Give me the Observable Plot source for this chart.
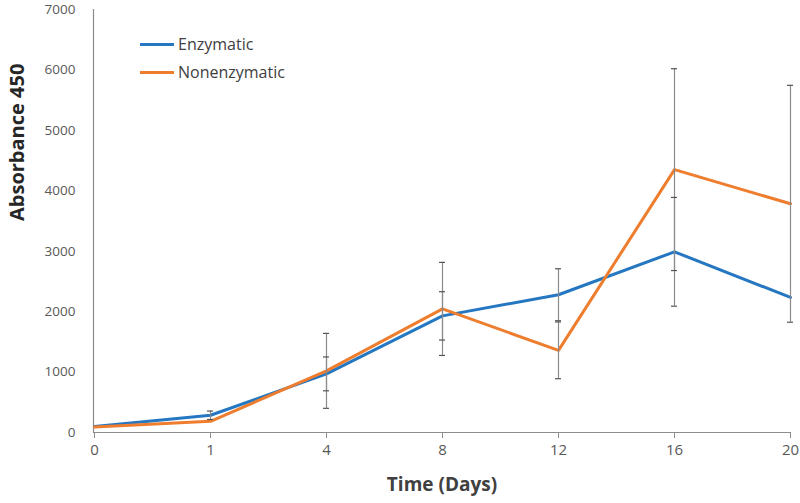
<!DOCTYPE html>
<html>
<head>
<meta charset="utf-8">
<script src="https://cdn.jsdelivr.net/npm/d3@7"></script>
<script src="https://cdn.jsdelivr.net/npm/@observablehq/plot@0.6"></script>
<style>
  html, body { margin: 0; padding: 0; background: #fff; }
  #wrap { position: relative; width: 800px; height: 503px; font-family: "Open Sans", sans-serif; }
  #legend { position: absolute; left: 140px; top: 30px; font-size: 16px; color: #404040; }
  .li { display: flex; align-items: center; height: 28px; }
  .sw { width: 34px; height: 3px; margin-right: 4px; }
</style>
</head>
<body>
<div id="wrap">
  <div id="chart"></div>
  <div id="legend"></div>
</div>
<script>
const days = ["0", "1", "4", "8", "12", "16", "20"];
const seriesNames = ["Enzymatic", "Nonenzymatic"];
const colors = ["#2477c0", "#ee7d2e"];
const enzymatic = [100, 285, 970, 1930, 2280, 2990, 2235];
const enzymaticErr = [0, 70, 280, 400, 430, 900, 0];
const nonenzymatic = [90, 185, 1020, 2045, 1360, 4350, 3785];
const nonenzymaticErr = [0, 0, 620, 770, 470, 1670, 1960];
const yTicks = [0, 1000, 2000, 3000, 4000, 5000, 6000, 7000];

const rows = [];
days.forEach((d, i) => {
  rows.push({day: d, series: seriesNames[0], value: enzymatic[i], err: enzymaticErr[i]});
  rows.push({day: d, series: seriesNames[1], value: nonenzymatic[i], err: nonenzymaticErr[i]});
});
const errRows = rows.filter(r => r.err > 0);

const plot = Plot.plot({
  width: 800,
  height: 503,
  marginLeft: 93,
  marginRight: 10,
  marginTop: 9,
  marginBottom: 71,
  style: {fontFamily: "Open Sans, sans-serif", background: "#fff", overflow: "visible"},
  x: {type: "point", domain: days, padding: 0},
  y: {domain: [0, 7000]},
  color: {domain: seriesNames, range: colors},
  marks: [
    Plot.ruleY([0], {stroke: "#8c8c8c", strokeWidth: 1.2}),
    Plot.frame({anchor: "left", stroke: "#8c8c8c", strokeWidth: 1.2}),
    Plot.axisX({tickSize: 6, tickPadding: 6, fontSize: 15, color: "#595959", stroke: "#8c8c8c", label: null}),
    Plot.axisY({ticks: yTicks, tickSize: 0, tickPadding: 18, fontSize: 13.5, color: "#595959", label: null, tickFormat: d3.format("d")}),
    Plot.line(rows, {x: "day", y: "value", z: "series", stroke: "series", strokeWidth: 3}),
    Plot.ruleX(errRows, {x: "day", y1: r => r.value - r.err, y2: r => r.value + r.err, stroke: "#8a8a8a", strokeWidth: 1.2}),
    Plot.ruleY(errRows, {x1: "day", x2: "day", y: r => r.value - r.err, stroke: "#555", strokeWidth: 1.2, insetLeft: -3, insetRight: -3}),
    Plot.ruleY(errRows, {x1: "day", x2: "day", y: r => r.value + r.err, stroke: "#555", strokeWidth: 1.2, insetLeft: -3, insetRight: -3}),
    Plot.text(["Time (Days)"], {frameAnchor: "bottom", dy: 58, fontWeight: "bold", fontSize: 19, fill: "#404040"}),
    Plot.text(["Absorbance 450"], {frameAnchor: "left", rotate: -90, dx: -76, fontWeight: "bold", fontSize: 20, fill: "#262626"})
  ]
});
document.getElementById("chart").appendChild(plot);

const legend = document.getElementById("legend");
seriesNames.forEach((name, i) => {
  const row = document.createElement("div");
  row.className = "li";
  const sw = document.createElement("div");
  sw.className = "sw";
  sw.style.background = colors[i];
  const t = document.createElement("span");
  t.textContent = name;
  row.appendChild(sw);
  row.appendChild(t);
  legend.appendChild(row);
});
</script>
</body>
</html>
